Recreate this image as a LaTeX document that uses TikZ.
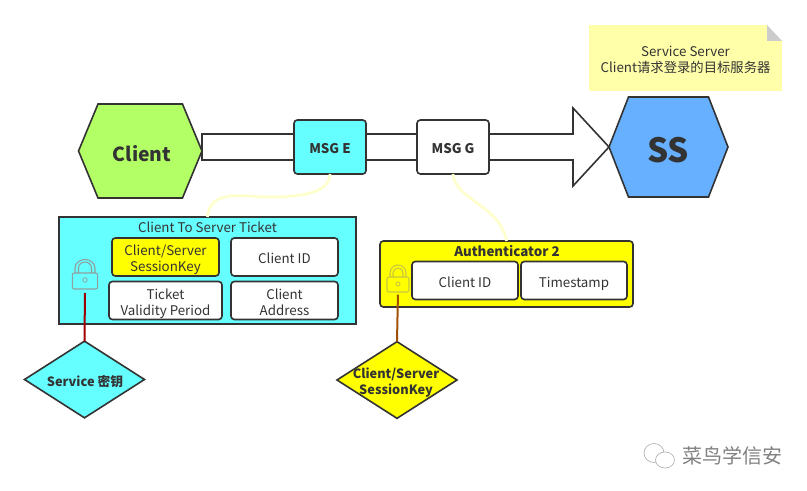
\documentclass[tikz,border=0pt]{standalone}
\usepackage{fontspec}
\setmainfont{Noto Sans CJK SC}
\usetikzlibrary{calc,shapes.geometric}

\definecolor{ink}{HTML}{333333}
\definecolor{limefill}{HTML}{B3FF66}
\definecolor{skyfill}{HTML}{66B0FF}
\definecolor{cyanfill}{HTML}{66FFFF}
\definecolor{keyyellow}{HTML}{FFFF00}
\definecolor{notefill}{HTML}{FFFFAA}
\definecolor{linkyellow}{HTML}{FFFFCC}
\definecolor{lockgrey}{HTML}{8F9F9F}
\definecolor{lockolive}{HTML}{C8C83C}

\newcommand{\lifttop}{\rule{0pt}{12.5pt}}
\newcommand{\liftend}{\rule[-2.3pt]{0pt}{2.3pt}}

\tikzset{
	outline/.style={draw=ink, line width=1.2pt, text=ink, inner sep=0pt, outer sep=0pt},
	hexbox/.style={inner sep=0pt, outer sep=0pt, minimum width=#1},
	hextext/.style={text=ink, inner sep=0pt, font=\bfseries\fontsize{#1}{20}\selectfont},
	msgbox/.style={outline, rounded corners=2.5pt, minimum width=54pt, minimum height=40.5pt, font=\bfseries\fontsize{10}{12}\selectfont, execute at begin node=\lifttop, execute at end node=\liftend},
	fieldbox/.style={outline, fill=white, rounded corners=2.5pt, align=center, minimum height=28.5pt, font=\fontsize{10}{12}\selectfont},
	keydiamond/.style={outline, diamond, aspect=1.55, minimum width=90pt, minimum height=57.5pt},
	keytext/.style={text=ink, align=center, inner sep=0pt, font=\bfseries\fontsize{9.6}{12}\selectfont},
	lockbody/.style={draw=#1, line width=.8pt, rounded corners=1.5pt, inner sep=0pt, outer sep=0pt},
	linkline/.style={draw=linkyellow, line width=2pt},
}

\begin{document}
\begin{tikzpicture}[x=0.75pt,y=-0.75pt]
	\useasboundingbox (0,0) rectangle (807,491);

	% top row
	\node (clientBox)[hexbox=92.6pt, minimum height=70.5pt] at (140.25,151){};
	\node (ssBox)[hexbox=89.25pt, minimum height=75pt] at (668.5,147){};
	\draw [outline, fill=limefill] (clientBox.west) -- ($(clientBox.north west)+(19.5,0)$) -- ($(clientBox.north east)+(-19.5,0)$) -- (clientBox.east) -- ($(clientBox.south east)+(-19.5,0)$) -- ($(clientBox.south west)+(19.5,0)$) -- cycle;
	\draw [outline, fill=skyfill] (ssBox.west) -- ($(ssBox.north west)+(19.5,0)$) -- ($(ssBox.north east)+(-19.5,0)$) -- (ssBox.east) -- ($(ssBox.south east)+(-19.5,0)$) -- ($(ssBox.south west)+(19.5,0)$) -- cycle;
	\node (client)[hextext=14.5] at (142,153.5){Client};
	\node (ss)[hextext=25] at (668,150.5){SS};

	\coordinate (tail) at (clientBox.east |- ssBox.west);
	\draw [outline, fill=white] ($(tail)+(0,-13)$) -- ($(ssBox.west)+(-36,-13)$) -- ($(ssBox.west)+(-36,-39)$) -- (ssBox.west) -- ($(ssBox.west)+(-36,39)$) -- ($(ssBox.west)+(-36,13)$) -- ($(tail)+(0,13)$) -- cycle;

	\node (msgE)[msgbox, fill=cyanfill] at (330,147){MSG E};
	\node (msgG)[msgbox, fill=white] at (453,147){MSG G};

	% note
	\node (note)[fill=notefill, text=ink, align=center, minimum width=144.75pt, minimum height=49.5pt, inner sep=0pt, outer sep=0pt, font=\fontsize{10}{12}\selectfont] at (685.5,58){\lifttop Service Server\\Client请求登录的目标服务器\liftend};
	\fill [white] (note.north east) -- ($(note.north east)+(-15,0)$) -- ($(note.north east)+(0,16)$) -- cycle;
	\fill [black!20] ($(note.north east)+(-15,0)$) -- ($(note.north east)+(-15,16)$) -- ($(note.north east)+(0,16)$) -- cycle;

	% ticket
	\node (ticket)[outline, fill=cyanfill, minimum width=223pt, minimum height=80.25pt] at (207.5,270.5){};
	\node (ticketT)[text=ink, inner sep=0pt, font=\fontsize{10}{12}\selectfont] at (207.5,227){Client To Server Ticket};
	\node (sessKey)[fieldbox, fill=keyyellow, minimum width=80.25pt] at (165.5,257){\lifttop Client/Server\\SessionKey\liftend};
	\node (idA)[fieldbox, minimum width=80.25pt] at (284.5,257){\lifttop Client ID\liftend};
	\node (validity)[fieldbox, minimum width=84.75pt] at (165.5,300.5){\lifttop Ticket\\Validity Period\liftend};
	\node (addr)[fieldbox, minimum width=80.25pt] at (284.5,300.5){\lifttop Client\\Address\liftend};

	% authenticator
	\node (auth)[outline, fill=keyyellow, rounded corners=2.5pt, minimum width=189.75pt, minimum height=49.5pt] at (506.5,274){};
	\node (authT)[text=ink, inner sep=0pt, font=\bfseries\fontsize{10}{12}\selectfont] at (507,251.5){Authenticator 2};
	\node (idB)[fieldbox, minimum width=79.5pt] at (465,280.5){\lifttop Client ID\liftend};
	\node (stamp)[fieldbox, minimum width=79.5pt] at (574,280.5){\lifttop Timestamp\liftend};

	% locks
	\node (lockA)[lockbody=lockgrey, minimum width=19pt, minimum height=12pt] at (85,281){};
	\draw [draw=lockgrey, line width=.8pt] (75,273) -- (75,268) arc[start angle=180, end angle=0, x radius=10, y radius=-8.5] -- (95,273);
	\draw [draw=lockgrey, line width=.8pt] (78.5,273) -- (78.5,268) arc[start angle=180, end angle=0, x radius=6.5, y radius=-6] -- (91.5,273);
	\node (holeA)[draw=lockgrey, line width=.6pt, circle, inner sep=1.2pt] at (85,280){};
	\node (lockB)[lockbody=lockolive, minimum width=16.5pt, minimum height=11.25pt] at (398,284.5){};
	\draw [draw=lockolive, line width=.8pt] (390,277) -- (390,273) arc[start angle=180, end angle=0, x radius=8, y radius=-8] -- (406,273) -- (406,277);
	\draw [draw=lockolive, line width=.8pt] (393,277) -- (393,273) arc[start angle=180, end angle=0, x radius=5, y radius=-5] -- (403,273) -- (403,277);
	\node (holeB)[draw=lockolive, line width=.6pt, circle, inner sep=1.1pt] at (398,284){};

	% keys
	\node (keyA)[keydiamond, fill=cyanfill] at (84.5,379.5){};
	\node (keyAT)[keytext] at (85,382){Service 密钥};
	\node (keyB)[keydiamond, fill=keyyellow] at (397,380){};
	\node (keyBT)[keytext] at (396,383){Client/Server\\SessionKey};

	\draw [draw={rgb,255:red,160;green,0;blue,0}, line width=1.5pt, shorten <=3pt] (lockA.south) -- (keyA.north);
	\draw [draw={rgb,255:red,160;green,80;blue,0}, line width=1.5pt, shorten <=2pt] (lockB.south) -- (keyB.north);

	% links
	\draw [linkline] (msgE.south) .. controls (329,192) and (305,197) .. (270,197) .. controls (245,197) and (210,188) .. (ticket.north);
	\draw [linkline] (msgG.south) .. controls (455,200) and (500,205) .. (auth.north);

	% watermark
	\node (markT)[text=black!50, inner sep=0pt, font=\fontsize{15}{18}\selectfont] at (732,456){菜鸟学信安};
	\draw [draw=black!30, line width=.5pt, fill=white] (654,453) ellipse[x radius=10, y radius=9.5];
	\draw [draw=black!30, line width=.5pt, fill=white] (665,460) ellipse[x radius=9.5, y radius=8];
\end{tikzpicture}
\end{document}
